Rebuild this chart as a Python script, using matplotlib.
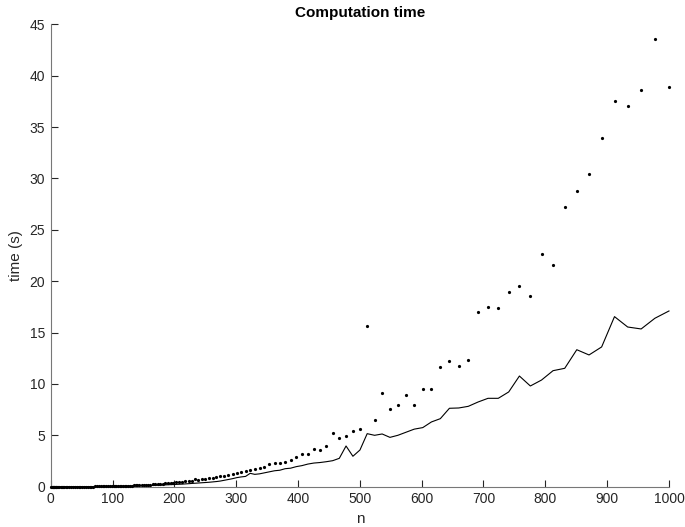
import numpy as np
import matplotlib.pyplot as plt

plt.rcParams['font.family'] = ['Liberation Sans', 'DejaVu Sans']

# problem sizes n (sampled roughly log-spaced, dense near zero)
n_low = [1, 2, 3, 4, 5, 6, 7, 8, 9, 10, 12, 14, 16, 18, 20, 22, 24, 27, 30,
         33, 36, 39, 42, 45, 48, 51, 54, 57, 60, 63, 66, 69, 72, 75, 78, 81,
         84, 87, 90, 93, 96, 99]
n_high = [101.6, 103.9, 106.4, 108.9, 111.4, 114.0, 116.7, 119.4, 122.2, 125.0,
          128.0, 131.0, 134.0, 137.2, 140.4, 143.6, 147.0, 150.4, 154.0, 157.6,
          161.2, 165.0, 168.9, 172.8, 176.8, 181.0, 185.2, 189.6, 194.0, 198.5,
          203.2, 207.9, 212.8, 217.8, 222.9, 228.1, 233.4, 238.9, 244.5, 250.2,
          256.0, 262.0, 268.1, 274.4, 280.8, 287.4, 294.1, 301.0, 308.0, 315.2,
          322.6, 330.1, 337.8, 345.7, 353.8, 362.1, 370.5, 379.2, 388.0, 397.1,
          406.4, 415.9, 425.6, 435.5, 445.7, 456.1, 466.8, 477.7, 488.8, 500.2,
          511.9, 523.9, 536.1, 548.7, 561.5, 574.6, 588.0, 601.8, 615.8, 630.2,
          644.9, 660.0, 675.4, 691.2, 707.3, 723.9, 740.8, 758.1, 775.8, 793.9,
          812.5, 831.4, 850.9, 870.7, 891.1, 911.9, 933.2, 955.0, 977.2, 1000.0]

# timings (s) for the two methods
t_dots_low = [0.0] * 24 + [0.01] * 8 + [0.02] * 6 + [0.03, 0.03, 0.04, 0.04]
t_dots_high = [0.05, 0.05, 0.05, 0.06, 0.06, 0.07, 0.07, 0.08, 0.09, 0.09,
               0.10, 0.11, 0.12, 0.13, 0.14, 0.15, 0.16, 0.17, 0.18, 0.20,
               0.21, 0.23, 0.24, 0.26, 0.28, 0.30, 0.32, 0.34, 0.37, 0.39,
               0.42, 0.45, 0.48, 0.52, 0.55, 0.60, 0.75, 0.68, 0.72, 0.78,
               0.83, 0.88, 0.94, 1.00, 1.07, 1.14, 1.22, 1.30, 1.40, 1.50,
               1.60, 1.75, 1.85, 1.95, 2.20, 2.30, 2.35, 2.40, 2.60, 2.85,
               3.15, 3.15, 3.64, 3.54, 3.93, 5.26, 4.77, 4.93, 5.39, 5.61,
               15.61, 6.50, 9.07, 7.53, 7.95, 8.93, 7.93, 9.48, 9.48, 11.62,
               12.26, 11.75, 12.33, 17.00, 17.52, 17.36, 18.92, 19.56, 18.53, 22.61,
               21.54, 27.25, 28.75, 30.43, 33.93, 37.50, 37.00, 38.60, 43.60, 38.90]
t_line_low = [0.0] * 30 + [0.01] * 6 + [0.02] * 6
t_line_high = [0.03, 0.03, 0.03, 0.03, 0.04, 0.04, 0.04, 0.05, 0.05, 0.05,
               0.06, 0.06, 0.07, 0.07, 0.08, 0.08, 0.09, 0.09, 0.10, 0.11,
               0.12, 0.12, 0.13, 0.14, 0.15, 0.16, 0.17, 0.18, 0.19, 0.21,
               0.22, 0.24, 0.25, 0.27, 0.29, 0.31, 0.33, 0.35, 0.38, 0.40,
               0.43, 0.46, 0.50, 0.55, 0.62, 0.70, 0.78, 0.88, 0.95, 1.00,
               1.30, 1.20, 1.25, 1.35, 1.45, 1.55, 1.60, 1.75, 1.80, 1.95,
               2.05, 2.20, 2.30, 2.35, 2.43, 2.53, 2.76, 3.96, 2.96, 3.57,
               5.16, 5.00, 5.13, 4.80, 5.00, 5.30, 5.60, 5.75, 6.30, 6.62,
               7.63, 7.66, 7.82, 8.24, 8.60, 8.60, 9.22, 10.77, 9.80, 10.38,
               11.29, 11.52, 13.33, 12.82, 13.60, 16.55, 15.54, 15.35, 16.39, 17.10]

n = np.array(n_low + n_high)
t_dots = np.array(t_dots_low + t_dots_high)
t_line = np.array(t_line_low + t_line_high)

fig = plt.figure(figsize=(6.85, 5.27), dpi=100)
ax = fig.add_axes([0.074, 0.0765, 0.9026, 0.8774])

ax.plot(n, t_dots, 'o', color='k', markersize=2.3, markeredgewidth=0,
        clip_on=False, zorder=3)
ax.plot(n, t_line, '-', color='k', linewidth=0.8, clip_on=False, zorder=3)

ax.set_xlim(0, 1000)
ax.set_ylim(0, 45)
ax.set_xticks(np.arange(0, 1001, 100))
ax.set_yticks(np.arange(0, 46, 5))

for side in ['top', 'right']:
    ax.spines[side].set_visible(False)
for side in ['left', 'bottom']:
    ax.spines[side].set_color('#777777')
    ax.spines[side].set_linewidth(0.8)
ax.tick_params(direction='in', length=5, width=0.8, color='#262626',
               labelcolor='#262626', labelsize=10, pad=4)

ax.set_title('Computation time', fontsize=11, fontweight='bold', pad=5)
ax.set_xlabel('n', fontsize=11, color='#262626', labelpad=4)
ax.set_ylabel('time (s)', fontsize=11, color='#262626', labelpad=5)

plt.savefig('out.png', dpi=100)
